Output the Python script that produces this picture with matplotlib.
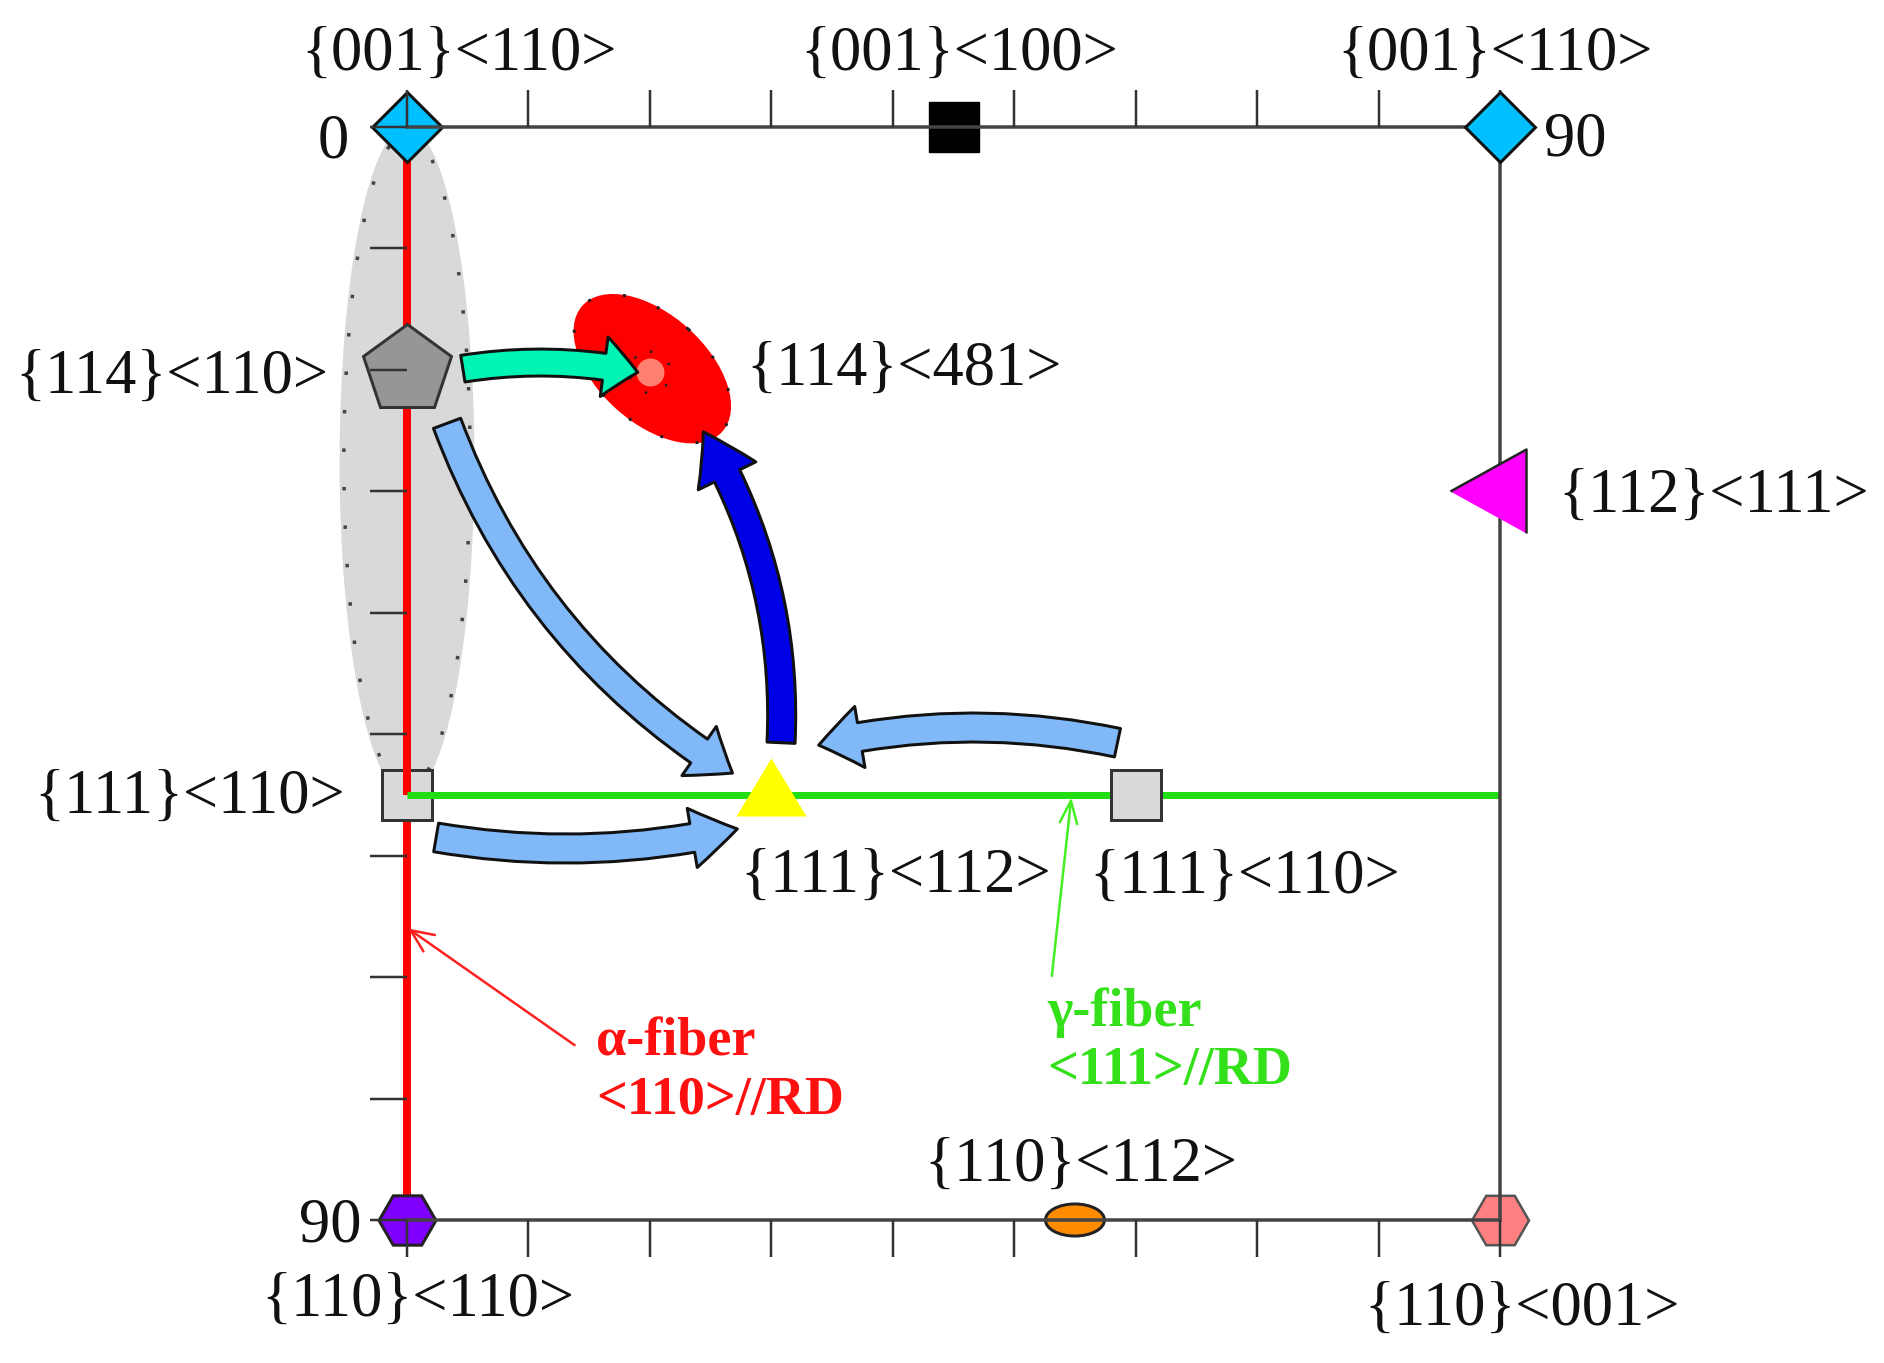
import matplotlib
matplotlib.use('Agg')
import matplotlib.pyplot as plt
from matplotlib.patches import Ellipse, FancyArrowPatch

plt.rcParams['font.family'] = ['Liberation Serif', 'DejaVu Serif']

W, H = 1884, 1363
LEFT, TOP, SIZE = 407, 127, 1093

# pixels to points at dpi 100
def pt(px):
    return px * 0.72

# Euler angle ticks
tick_values = [0, 10, 20, 30, 40, 50, 60, 70, 80, 90]

# orientation labels: text, phi1, Phi
label_texts = ['{001}<110>', '{001}<100>', '{001}<110>', '{114}<110>', '{114}<481>',
               '{112}<111>', '{111}<110>', '{111}<112>', '{111}<110>', '{110}<112>',
               '{110}<110>', '{110}<001>', '0', '90', '90']
label_x = [4.25, 45.5, 89.6, -19.4, 40.9, 107.6, -17.9, 40.2, 69.0, 55.5, 0.9, 91.8, -6.1, 96.2, -6.3]
label_y = [-5.9, -5.9, -5.9, 20.7, 20.1, 30.5, 55.3, 61.8, 61.9, 85.6, 96.7, 97.5, 1.3, 1.1, 90.5]

# fibers
alpha_phi = [0, 55, 90]
gamma_phi1 = [0, 90]
gamma_Phi = 55

# curved arrows: start, end, bend, colour, tail width, head width, head length
arrow_start = [(4.6, 19.9), (3.3, 24.4), (2.4, 58.5), (58.5, 50.7), (30.8, 50.7)]
arrow_end = [(19.0, 20.2), (26.8, 53.2), (27.2, 57.8), (33.9, 50.9), (24.4, 25.1)]
arrow_rad = [-0.09, 0.17, 0.10, 0.11, 0.15]
arrow_color = ['#00f5b5', '#80b8f8', '#80b8f8', '#80b8f8', '#0000e6']
arrow_tail = [27, 29, 29, 29, 28]
arrow_head_w = [60, 60, 60, 62, 64]
arrow_head_l = [34, 40, 46, 42, 50]

fig = plt.figure(figsize=(W / 100, H / 100), dpi=100, facecolor='white')
ax = fig.add_axes([LEFT / W, 1 - (TOP + SIZE) / H, SIZE / W, SIZE / H])
ax.set_xlim(0, 90)
ax.set_ylim(90, 0)
ax.set_axisbelow(False)

for s in ax.spines.values():
    s.set_color('#444444')
    s.set_linewidth(pt(3.5))
ax.spines['left'].set_visible(False)
ax.xaxis.set_ticks_position('both')
ax.set_xticks(tick_values)
ax.set_yticks(tick_values)
ax.tick_params(axis='both', direction='out', length=pt(37), width=pt(2.5), color='#333333',
               labelbottom=False, labeltop=False, labelleft=False)
ax.tick_params(axis='y', right=False)

# density blobs
gray_blob = Ellipse((0, 27.5), 11.1, 55, fc='#d9d9d9', ec='none', zorder=1)
gray_dots = Ellipse((0, 27.5), 10.4, 54, fill=False, ec='#444444', lw=pt(3.5), ls=(0, (1, 10)), zorder=1.1)
red_blob = Ellipse((20.2, 19.9), 15.5, 8.9, angle=42, fc='#ff0000', ec='none', zorder=1)
red_dots = Ellipse((20.2, 19.9), 15.4, 8.8, angle=42, fill=False, ec='#222222', lw=pt(3), ls=(0, (1, 11)), zorder=1.1)
pink_dots = Ellipse((20, 20.2), 3.4, 3.4, fill=False, ec='#222222', lw=pt(2.5), ls=(0, (1, 8)), zorder=1.4)
for p in [gray_blob, gray_dots, red_blob, red_dots, pink_dots]:
    p.set_clip_on(False)
    ax.add_patch(p)

kw = dict(clip_on=False, linestyle='none')

# left square sits under the fibers, lower red part goes under it
ax.plot([0], [alpha_phi[1]], marker='s', ms=pt(50), mfc='#d9d9d9', mec='#333333', mew=pt(3), zorder=1.6, **kw)
ax.plot([0, 0], alpha_phi[1:], color='#ff0000', lw=pt(8), zorder=1.5, clip_on=False, solid_capstyle='butt')
ax.plot([0, 0], alpha_phi[:2], color='#ff0000', lw=pt(8), zorder=1.7, clip_on=False, solid_capstyle='butt')
ax.plot(gamma_phi1, [gamma_Phi, gamma_Phi], color='#22dd11', lw=pt(7), zorder=1.8, clip_on=False, solid_capstyle='butt')

# texture components
ax.plot([0], [0], marker='D', ms=pt(50), mfc='#00bfff', mec='#111111', mew=pt(3), zorder=2, **kw)
ax.plot([90], [0], marker='D', ms=pt(50), mfc='#00bfff', mec='#111111', mew=pt(3), zorder=3, **kw)
ax.plot([45], [0], marker='s', ms=pt(50), mfc='black', mec='black', zorder=2, **kw)
ax.plot([0], [20], marker='p', ms=pt(92), mfc='#969696', mec='#333333', mew=pt(3), zorder=2, **kw)
ax.plot([60], [55], marker='s', ms=pt(50), mfc='#d9d9d9', mec='#333333', mew=pt(3), zorder=2, **kw)
ax.plot([30], [55], marker=[(-35, -21), (35, -21), (0, 37)], ms=pt(74), mfc='#ffff00', mec='none', zorder=2, **kw)
ax.plot([90], [30], marker=[(-50, 0), (26, 42), (26, -42)], ms=pt(100), mfc='#ff00ff', mec='#222222', mew=pt(2.5), zorder=3, **kw)
ax.plot([0], [90], marker='H', ms=pt(57), mfc='#7f00ff', mec='#222222', mew=pt(3), zorder=2, **kw)
ax.plot([90], [90], marker='H', ms=pt(57), mfc='#ff8080', mec='#555555', mew=pt(2.5), zorder=2, **kw)
ax.plot([20], [20.2], marker='o', ms=pt(28), mfc='#ff8070', mec='none', zorder=1.5, **kw)
orange = Ellipse((55, 90), 4.86, 2.64, fc='#ff8c00', ec='#222222', lw=pt(3), zorder=2)
orange.set_clip_on(False)
ax.add_patch(orange)

# transformation arrows
for i in range(len(arrow_start)):
    style = 'simple,tail_width=%.1f,head_width=%.1f,head_length=%.1f' % (
        pt(arrow_tail[i]), pt(arrow_head_w[i]), pt(arrow_head_l[i]))
    a = FancyArrowPatch(arrow_start[i], arrow_end[i], arrowstyle=style, mutation_scale=1,
                        connectionstyle='arc3,rad=%.2f' % arrow_rad[i], shrinkA=0, shrinkB=0,
                        fc=arrow_color[i], ec='#111111', lw=pt(3), zorder=3, clip_on=False)
    ax.add_patch(a)

# fiber pointers
ax.annotate('', xy=(0.1, 66), xytext=(13.8, 75.6), annotation_clip=False,
            arrowprops=dict(arrowstyle='->,head_length=0.9,head_width=0.4', color='#ff2020', lw=pt(2.5),
                            shrinkA=0, shrinkB=0, mutation_scale=pt(25)), zorder=3)
ax.annotate('', xy=(54.7, 55.2), xytext=(53.1, 69.9), annotation_clip=False,
            arrowprops=dict(arrowstyle='->,head_length=0.9,head_width=0.35', color='#44ee22', lw=pt(2.5),
                            shrinkA=0, shrinkB=0, mutation_scale=pt(25)), zorder=3)

for t, x, y in zip(label_texts, label_x, label_y):
    ax.text(x, y, t, fontsize=45, color='#111111', ha='center', va='center')

ax.text(15.6, 75.4, '\u03b1-fiber', fontsize=39, fontweight='bold', color='#ff1010', ha='left', va='center')
ax.text(15.6, 80.2, '<110>//RD', fontsize=39, fontweight='bold', color='#ff1010', ha='left', va='center')
ax.text(52.7, 72.9, '\u03b3-fiber', fontsize=39, fontweight='bold', color='#33e01a', ha='left', va='center')
ax.text(52.7, 77.7, '<111>//RD', fontsize=39, fontweight='bold', color='#33e01a', ha='left', va='center')

fig.savefig('out.png', dpi=100)
